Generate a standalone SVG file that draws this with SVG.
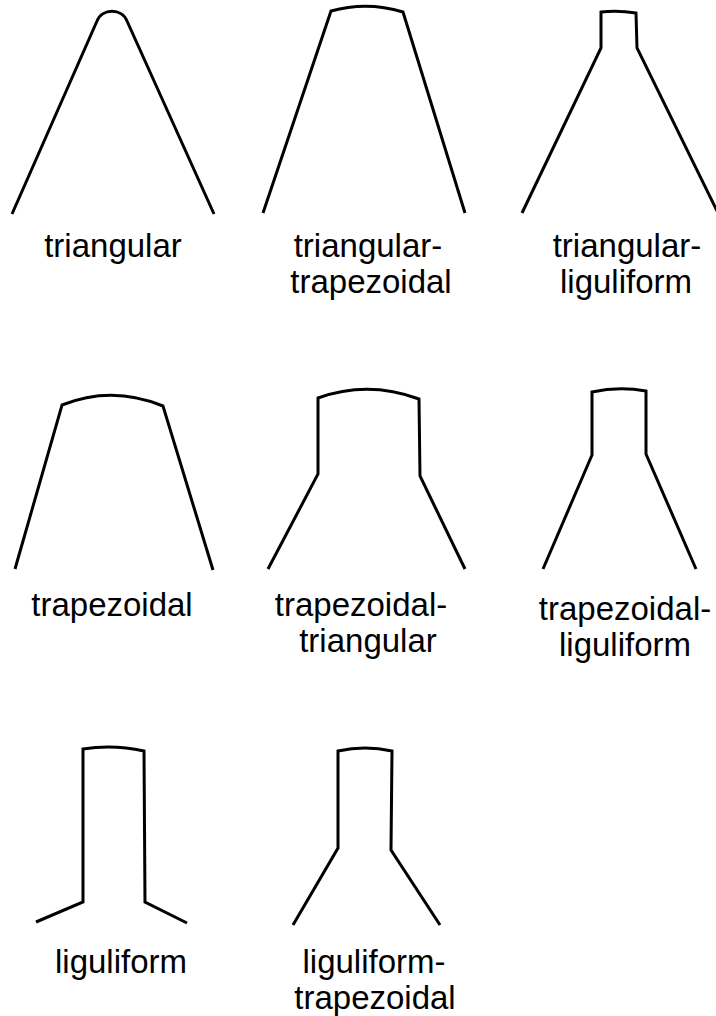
<svg xmlns="http://www.w3.org/2000/svg" width="716" height="1016" viewBox="0 0 716 1016">
<style>
.s{fill:none;stroke:#000;stroke-width:3;stroke-linejoin:miter;stroke-linecap:butt}
.t{font-family:"Liberation Sans",Arial,sans-serif;font-size:33px;fill:#000;text-anchor:middle}
</style>
<rect width="716" height="1016" fill="#fff"/>
<g id="triangular">
<path class="s" d="M12,214 L97,21 C102,8 122,8 127,21 L214,214"/>
<text class="t" x="113" y="257">triangular</text>
</g>
<g id="triangular-trapezoidal">
<path class="s" d="M263,213 L331,11 Q367,1 403,12 L465,213"/>
<text class="t" x="368" y="257">triangular-</text>
<text class="t" x="371" y="293">trapezoidal</text>
</g>
<g id="triangular-liguliform">
<path class="s" d="M522,213 L601,48 L601,12 Q618,10 636,13 L637,48 L718,213"/>
<text class="t" x="627" y="257">triangular-</text>
<text class="t" x="626" y="293">liguliform</text>
</g>
<g id="trapezoidal">
<path class="s" d="M15,569 L62,405 Q112,385 163,406 L213,570"/>
<text class="t" x="112" y="616">trapezoidal</text>
</g>
<g id="trapezoidal-triangular">
<path class="s" d="M268,569 L318,474 L318,398 Q368,380 419,399 L420,476 L465,569"/>
<text class="t" x="361" y="616">trapezoidal-</text>
<text class="t" x="368" y="652">triangular</text>
</g>
<g id="trapezoidal-liguliform">
<path class="s" d="M543,569 L592,455 L592,392 Q619,386 646,391 L646,454 L696,569"/>
<text class="t" x="625" y="620">trapezoidal-</text>
<text class="t" x="625" y="656">liguliform</text>
</g>
<g id="liguliform">
<path class="s" d="M36,922 L83,902 L83,749 Q113,744 144,751 L145,902 L187,923"/>
<text class="t" x="121" y="973">liguliform</text>
</g>
<g id="liguliform-trapezoidal">
<path class="s" d="M293,925 L338,848 L338,751 Q365,745 392,751 L391,850 L440,925"/>
<text class="t" x="374" y="973">liguliform-</text>
<text class="t" x="375" y="1009">trapezoidal</text>
</g>
<g id="connectors"/>
</svg>
